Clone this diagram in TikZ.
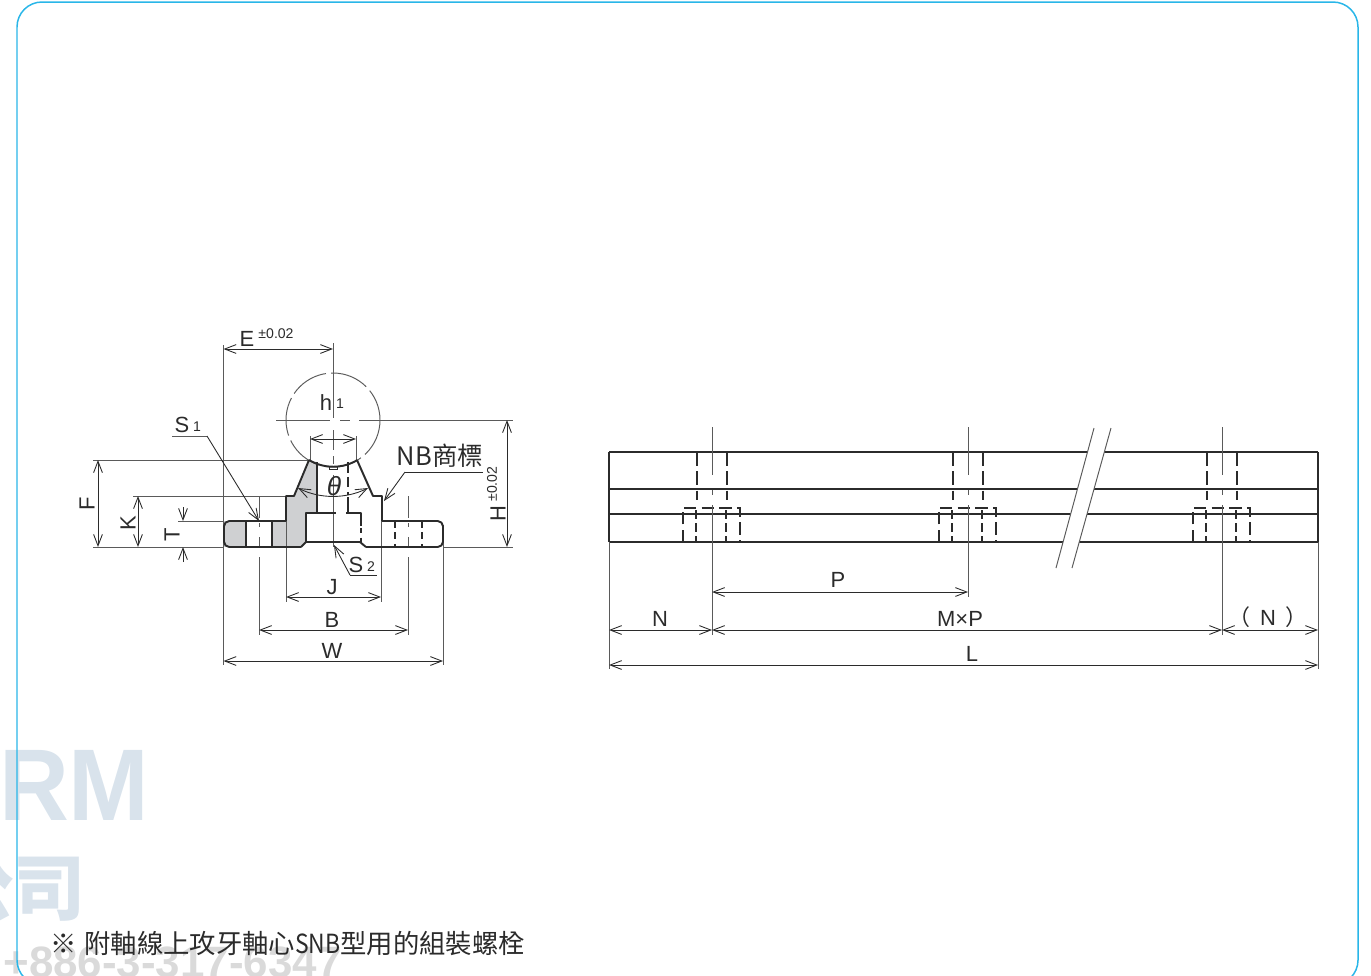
\documentclass[tikz,border=0pt]{standalone}
\usepackage{fontspec}
\usepackage{amsmath}
\usetikzlibrary{arrows.meta}
\setmainfont{Liberation Sans}
\newfontfamily\cjk{Noto Sans CJK TC}
\definecolor{framecol}{HTML}{29B6E8}
\definecolor{inkcol}{HTML}{2B2B2B}
\definecolor{extcol}{HTML}{5A5A5A}
\definecolor{greycol}{HTML}{CFD0D2}
\definecolor{markcol}{HTML}{D9E3EC}
\definecolor{telcol}{HTML}{DADADA}
\tikzset{
  outln/.style={draw=inkcol,line width=1.1pt,line join=round},
  extln/.style={draw=extcol,line width=0.55pt},
  hideln/.style={draw=inkcol,line width=0.8pt,dash pattern=on 8pt off 3pt},
  dimln/.style={draw=inkcol,line width=0.5pt,{Straight Barb[length=6.5pt,width=5pt]}-{Straight Barb[length=6.5pt,width=5pt]}},
  oneln/.style={draw=inkcol,line width=0.5pt,-{Straight Barb[length=6.5pt,width=5pt]}},
  lab/.style={text=inkcol,font=\fontsize{12.5}{12.5}\selectfont,inner sep=0pt},
  sub/.style={text=inkcol,font=\fontsize{8}{8}\selectfont,inner sep=0pt},
}
\begin{document}
\begin{tikzpicture}[x=0.02cm,y=-0.02cm]
\useasboundingbox (0,0) rectangle (1371,975);
\clip (0,0) rectangle (1371,975);
% watermark
\node[anchor=base east,inner sep=0pt,text=markcol,font=\fontsize{58}{58}\selectfont\bfseries] (markrm) at (150,820) {\scalebox{0.95}[1]{RM}};
\node[anchor=east,inner sep=0pt,text=markcol,font=\cjk\fontsize{41}{41}\selectfont\bfseries] (markco) at (86,888) {公司};
\node[anchor=base west,inner sep=0pt,text=telcol,font=\fontsize{25}{25}\selectfont\bfseries] (marktel) at (3,977) {+886-3-317-6347};
% frame
\draw[framecol,line width=0.85pt,rounded corners=0.5cm] (17,2) rectangle (1358,985);

% section view: grey parts
\fill[greycol] (224,521) -- (246,521) -- (246,547) -- (224,547) -- cycle;
\fill[greycol] (272,521) -- (286,521) -- (286,496) -- (294,496) -- (309,460) -- (317,462) -- (317,513) -- (306,513) -- (306,542) -- (301,547) -- (272,547) -- cycle;
% ball
\draw[extln,dash pattern=on 22pt off 3pt] (333,420) circle[radius=47];
% extension lines
\draw[extln] (223.5,345) -- (223.5,665);
\draw[extln] (443,525) -- (443,665);
\draw[extln] (333,343) -- (333,418);
\draw[extln] (333,430) -- (333,450);
\draw[extln] (333,456) -- (333,464);
\draw[extln] (333,475) -- (333,547);
\draw[extln] (276,420) -- (330,420);
\draw[extln] (340,420) -- (350,420);
\draw[extln] (359,420) -- (513,420);
\draw[extln] (93,460) -- (310,460);
\draw[extln] (133,496) -- (286,496);
\draw[extln] (178,521) -- (224,521);
\draw[extln] (93,547) -- (224,547);
\draw[extln] (443,547) -- (513,547);
\draw[extln] (286,496) -- (286,602);
\draw[extln] (381,496) -- (381,602);
\draw[extln] (310,436) -- (310,460);
\draw[extln] (356,436) -- (356,460);
\foreach \cx in {259,408} {
  \draw[extln] (\cx,496) -- (\cx,518);
  \draw[extln] (\cx,523) -- (\cx,527);
  \draw[extln] (\cx,537) -- (\cx,547);
  \draw[extln] (\cx,557) -- (\cx,635);
}
% section view: outline
\draw[outln,rounded corners=3pt] (301,547) -- (224,547) -- (224,521) -- (286,521);
\draw[outln] (286,521) -- (286,496) -- (294,496) -- (309,460);
\draw[outln] (309,460) arc[start angle=121,end angle=59,radius=47];
\draw[outln] (357,460) -- (373,496) -- (382,496) -- (382,521);
\draw[outln,rounded corners=3pt] (382,521) -- (443,521) -- (443,547) -- (366,547);
\draw[outln] (366,547) -- (360,542) -- (306,542) -- (301,547);
\draw[outln] (306,542) -- (306,513) -- (336,513);
\draw[outln] (346,513) -- (361,513) -- (361,526);
\draw[hideln,dash pattern=on 3pt off 2.5pt] (361,528) -- (361,542);
\draw[outln] (317,462) -- (317,513);
\draw[outln] (348,497) -- (348,513);
\draw[hideln,dash pattern=on 6pt off 2.5pt] (348,462) -- (348,495);
\draw[outln] (246,521) -- (246,547);
\draw[outln] (272,521) -- (272,547);
\draw[hideln,dash pattern=on 4pt off 2.5pt] (395,521) -- (395,547);
\draw[hideln,dash pattern=on 4pt off 2.5pt] (422,521) -- (422,547);
\draw[inkcol,line width=0.5pt] (329,466) rectangle (337,469);
% section view: dimensions
\draw[dimln] (223.5,349) -- (333,349);
\draw[dimln] (310,439) -- (356,439);
\draw[dimln] (298,488) .. controls (320,499) and (346,499) .. (368,488);
\draw[dimln] (98,460) -- (98,547);
\draw[dimln] (138,496) -- (138,547);
\draw[oneln] (183,507) -- (183,521);
\draw[oneln] (183,562) -- (183,547);
\draw[dimln] (507,420) -- (507,547);
\draw[dimln] (286,597) -- (381,597);
\draw[dimln] (259,630) -- (408,630);
\draw[dimln] (223.5,661) -- (443,661);
% section view: labels
\node[lab] (dimE) at (247,339) {E};
\node[sub] (tolE) at (276,334) {±0.02};
\node[lab] (dimh) at (326,403) {h};
\node[sub] (subh) at (340,404) {1};
\node[lab] (dimS) at (182,425) {S};
\node[sub] (subS) at (197,427) {1};
\node[lab] (dimSb) at (356,565) {S};
\node[sub] (subSb) at (371,567) {2};
\node[text=inkcol,inner sep=0pt,font=\cjk\fontsize{14.5}{14.5}\selectfont] (logo) at (440,456) {NB商標};
\node[text=inkcol,inner sep=0pt,font=\fontsize{15}{15}\selectfont\itshape] (dimth) at (334,486) {θ};
\node[lab,rotate=90] (dimF) at (87,504) {F};
\node[lab,rotate=90] (dimK) at (128,523) {K};
\node[lab,rotate=90] (dimT) at (172,535) {T};
\node[lab,rotate=90] (dimH) at (498,514) {H};
\node[sub,rotate=90] (tolH) at (492,484) {±0.02};
\node[lab] (dimJ) at (332,587) {J};
\node[lab] (dimB) at (332,620) {B};
\node[lab] (dimW) at (332,651) {W};
% section view: leaders
\coordinate (endS) at (259,521);
\coordinate (endSb) at (334,545);
\coordinate (endlogo) at (384,501);
\draw[extln] (172,436) -- (207,436);
\draw[oneln] (207,436) -- (endS);
\draw[draw=inkcol,line width=0.5pt] (350,575) -- (377,575);
\draw[oneln] (350,575) -- (endSb);
\draw[draw=inkcol,line width=0.5pt] (483,472) -- (405,472);
\draw[oneln] (405,472) -- (endlogo);

% side view
\foreach \ya in {452,489,514,542} {
  \draw[outln] (609,\ya) -- (1318,\ya);
}
\draw[outln] (609,452) -- (609,542);
\draw[outln] (1318,452) -- (1318,542);
\foreach \cx in {712,968,1222} {
  \draw[hideln] (\cx-15,452) -- (\cx-15,500);
  \draw[hideln] (\cx+15,452) -- (\cx+15,500);
  \draw[hideln,dash pattern=on 7pt off 3pt] (\cx-29,542) -- (\cx-29,508) -- (\cx+28,508) -- (\cx+28,542);
  \draw[hideln,dash pattern=on 5pt off 2.5pt] (\cx-16,510) -- (\cx-16,542);
  \draw[hideln,dash pattern=on 5pt off 2.5pt] (\cx+14,510) -- (\cx+14,542);
  \draw[extln] (\cx,427) -- (\cx,475);
  \draw[extln] (\cx,490) -- (\cx,495);
  \draw[extln] (\cx,505) -- (\cx,542);
}
% break
\fill[white] (1094,428) -- (1111,428) -- (1072,568) -- (1056,568) -- cycle;
\draw[extln] (1094,428) -- (1056,568);
\draw[extln] (1111,428) -- (1072,568);
% side view: extension lines
\draw[extln] (609,542) -- (609,669);
\draw[extln] (1318,542) -- (1318,669);
\draw[extln] (712,542) -- (712,635);
\draw[extln] (968,542) -- (968,597);
\draw[extln] (1222,542) -- (1222,635);
% side view: dimensions
\draw[dimln] (712,592) -- (968,592);
\draw[dimln] (609,630) -- (712,630);
\draw[dimln] (712,630) -- (1222,630);
\draw[dimln] (1222,630) -- (1318,630);
\draw[dimln] (609,665) -- (1318,665);
\node[lab] (dimP) at (838,580) {P};
\node[lab] (dimN) at (660,619) {N};
\node[lab] (dimMP) at (960,619) {M×P};
\node[lab] (dimNb) at (1268,617) {{\cjk（}\hspace{5.5pt}N\hspace{5.5pt}{\cjk）}};
\node[lab] (dimL) at (972,654) {L};
% note
\node[anchor=base west,inner sep=0pt,text=inkcol,font=\cjk\fontsize{15}{15}\selectfont] (note) at (50,953) {※\hspace{1pt} 附軸線上攻牙軸心\scalebox{0.87}[1]{SNB}型用的組裝螺栓};
\end{tikzpicture}
\end{document}
